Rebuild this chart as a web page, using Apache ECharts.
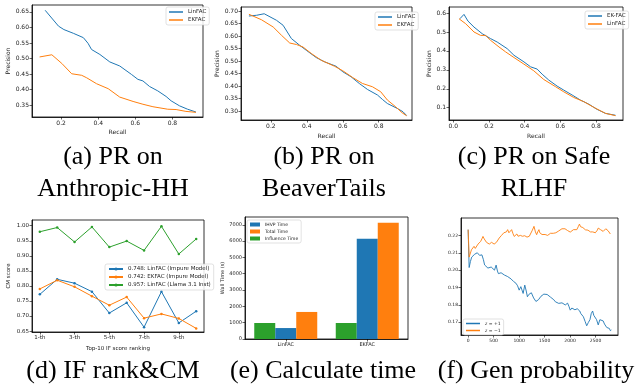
<!DOCTYPE html>
<html>
<head>
<meta charset="utf-8">
<script src="https://cdn.jsdelivr.net/npm/echarts@6/dist/echarts.min.js"></script>
<style>
html, body { margin: 0; padding: 0; background: #fff; }
#chart { width: 637px; height: 385px; }
</style>
</head>
<body>
<div id="chart"></div>
<script>
// (a) PR on Anthropic-HH  [recall, precision]
var aLinFAC = [[0.114,0.655],[0.186,0.604],[0.215,0.593],[0.266,0.581],[0.32,0.567],[0.345,0.549],[0.364,0.529],[0.409,0.513],[0.4625,0.489],[0.516,0.476],[0.579,0.449],[0.614,0.433],[0.641,0.428],[0.677,0.41],[0.721,0.396],[0.766,0.378],[0.793,0.364],[0.838,0.348],[0.882,0.337],[0.927,0.328]];
var aEKFAC = [[0.084,0.505],[0.15,0.512],[0.204,0.484],[0.257,0.451],[0.311,0.446],[0.338,0.438],[0.391,0.419],[0.454,0.403],[0.516,0.376],[0.588,0.362],[0.641,0.353],[0.695,0.345],[0.775,0.337],[0.82,0.336],[0.873,0.33],[0.927,0.327]];

// (b) PR on BeaverTails
var bLinFAC = [[0.078,0.68],[0.121,0.683],[0.163,0.689],[0.231,0.663],[0.268,0.643],[0.314,0.59],[0.36,0.563],[0.397,0.543],[0.452,0.514],[0.498,0.497],[0.563,0.479],[0.6,0.457],[0.646,0.437],[0.692,0.41],[0.738,0.386],[0.793,0.364],[0.821,0.346],[0.848,0.33],[0.904,0.31],[0.935,0.297],[0.955,0.282]];
var bEKFAC = [[0.078,0.687],[0.148,0.665],[0.213,0.636],[0.259,0.603],[0.305,0.572],[0.342,0.566],[0.379,0.556],[0.425,0.53],[0.48,0.503],[0.554,0.479],[0.6,0.461],[0.655,0.434],[0.71,0.41],[0.765,0.397],[0.811,0.377],[0.848,0.344],[0.894,0.317],[0.93,0.293],[0.955,0.281]];

// (c) PR on Safe RLHF
var cEKFAC = [[0.037,0.57],[0.06,0.593],[0.082,0.558],[0.116,0.526],[0.162,0.491],[0.209,0.465],[0.246,0.447],[0.302,0.412],[0.34,0.377],[0.396,0.342],[0.433,0.316],[0.47,0.304],[0.498,0.277],[0.535,0.246],[0.582,0.214],[0.619,0.193],[0.666,0.167],[0.713,0.14],[0.759,0.119],[0.806,0.091],[0.853,0.07],[0.909,0.06]];
var cLinFAC = [[0.032,0.57],[0.069,0.544],[0.116,0.5],[0.153,0.482],[0.181,0.482],[0.209,0.456],[0.256,0.421],[0.293,0.395],[0.34,0.365],[0.396,0.33],[0.451,0.295],[0.507,0.249],[0.573,0.211],[0.619,0.184],[0.675,0.154],[0.731,0.132],[0.787,0.102],[0.853,0.07],[0.909,0.058]];

// (d) IF rank & CM score
var ranks = [1, 2, 3, 4, 5, 6, 7, 8, 9, 10];
var dLinImpure = [0.772, 0.822, 0.809, 0.781, 0.71, 0.744, 0.663, 0.781, 0.677, 0.716];
var dEkImpure = [0.79, 0.819, 0.797, 0.766, 0.736, 0.763, 0.693, 0.707, 0.692, 0.659];
var dLinLlama = [0.98, 0.994, 0.946, 0.996, 0.929, 0.949, 0.918, 0.998, 0.906, 0.956];

// (e) calculate time
var methods = ['LinFAC', 'EKFAC'];
var ihvpTime = [671, 6137];
var totalTime = [1657, 7123];
var influenceTime = [980, 980];

// (f) gen probability  [step, prob]
var fPlus = [[0,0.2233],[20,0.2015],[45,0.2050],[70,0.2075],[100,0.2085],[130,0.2092],[180,0.2100],[225,0.2085],[270,0.2088],[300,0.2060],[323,0.2030],[360,0.2040],[388,0.2012],[420,0.2022],[452,0.2018],[490,0.2028],[517,0.2000],[549,0.2029],[575,0.1995],[594,0.1980],[620,0.1990],[646,0.1985],[680,0.1975],[711,0.1972],[740,0.1965],[775,0.1963],[810,0.1958],[840,0.1950],[870,0.1940],[891,0.1935],[920,0.1930],[937,0.1925],[970,0.1910],[1001,0.1885],[1034,0.1905],[1060,0.1895],[1079,0.1866],[1111,0.1914],[1140,0.1880],[1163,0.1847],[1190,0.1860],[1214,0.1866],[1240,0.1870],[1260,0.1866],[1285,0.1840],[1305,0.1832],[1330,0.1820],[1357,0.1809],[1380,0.1830],[1408,0.1838],[1430,0.1850],[1454,0.1857],[1485,0.1862],[1518,0.1866],[1550,0.1860],[1583,0.1862],[1615,0.1845],[1647,0.1838],[1680,0.1830],[1712,0.1818],[1745,0.1822],[1777,0.1809],[1810,0.1818],[1841,0.1812],[1875,0.1815],[1906,0.1800],[1930,0.1808],[1951,0.1810],[1980,0.1790],[2003,0.1770],[2035,0.1782],[2067,0.1780],[2095,0.1772],[2119,0.1770],[2140,0.1778],[2164,0.1780],[2190,0.1765],[2209,0.1751],[2235,0.1745],[2261,0.1732],[2295,0.1705],[2326,0.1680],[2360,0.1700],[2390,0.1715],[2415,0.1750],[2442,0.1765],[2465,0.1740],[2487,0.1732],[2520,0.1715],[2552,0.1685],[2584,0.1715],[2615,0.1712],[2649,0.1708],[2675,0.1690],[2700,0.1690],[2720,0.1670],[2745,0.1660],[2770,0.1665],[2790,0.1652],[2810,0.1656]];
var fMinus = [[0,0.2233],[20,0.2075],[32,0.2085],[65,0.2117],[90,0.2110],[116,0.2137],[140,0.2125],[161,0.2127],[194,0.2150],[220,0.2140],[245,0.2165],[270,0.2180],[291,0.2194],[315,0.2180],[336,0.2175],[360,0.2160],[388,0.2165],[415,0.2150],[439,0.2146],[460,0.2160],[485,0.2162],[510,0.2150],[530,0.2142],[555,0.2160],[581,0.2156],[610,0.2185],[633,0.2194],[655,0.2200],[678,0.2204],[700,0.2215],[723,0.2213],[750,0.2220],[775,0.2233],[800,0.2215],[827,0.2204],[853,0.2233],[880,0.2210],[904,0.2194],[930,0.2205],[956,0.2208],[980,0.2195],[1001,0.2185],[1025,0.2200],[1047,0.2208],[1065,0.2195],[1085,0.2188],[1110,0.2198],[1131,0.2200],[1155,0.2190],[1176,0.2181],[1200,0.2195],[1227,0.2204],[1260,0.2230],[1292,0.2252],[1320,0.2220],[1344,0.2204],[1365,0.2220],[1389,0.2233],[1405,0.2215],[1421,0.2204],[1450,0.2205],[1486,0.2200],[1510,0.2205],[1537,0.2208],[1560,0.2200],[1583,0.2204],[1615,0.2212],[1647,0.2223],[1670,0.2212],[1693,0.2208],[1720,0.2215],[1744,0.2219],[1775,0.2225],[1809,0.2233],[1840,0.2238],[1873,0.2246],[1900,0.2238],[1925,0.2233],[1950,0.2228],[1970,0.2223],[2003,0.2219],[2035,0.2228],[2067,0.2233],[2100,0.2230],[2132,0.2233],[2160,0.2250],[2184,0.2265],[2205,0.2250],[2229,0.2242],[2250,0.2245],[2274,0.2246],[2300,0.2232],[2326,0.2223],[2350,0.2230],[2377,0.2233],[2400,0.2220],[2423,0.2213],[2445,0.2220],[2468,0.2223],[2495,0.2215],[2520,0.2208],[2535,0.2230],[2552,0.2242],[2575,0.2238],[2597,0.2233],[2625,0.2228],[2649,0.2223],[2675,0.2232],[2700,0.2238],[2722,0.2230],[2745,0.2227],[2770,0.2218],[2790,0.2208]];

// tick labels
var prTicksA_y = [0.35, 0.40, 0.45, 0.50, 0.55, 0.60, 0.65];
var prTicksB_y = [0.30, 0.35, 0.40, 0.45, 0.50, 0.55, 0.60, 0.65, 0.70];
var prTicksC_y = [0.1, 0.2, 0.3, 0.4, 0.5, 0.6];
var recallTicks = [0.2, 0.4, 0.6, 0.8];
var recallTicksC = [0.0, 0.2, 0.4, 0.6, 0.8];
var cmTicks = [0.65, 0.70, 0.75, 0.80, 0.85, 0.90, 0.95, 1.00];
var rankTicks = [1, 3, 5, 7, 9];
var timeTicks = [0, 1000, 2000, 3000, 4000, 5000, 6000, 7000];
var probTicks = [0.17, 0.18, 0.19, 0.20, 0.21, 0.22];
var stepTicks = [0, 500, 1000, 1500, 2000, 2500];

var BLUE = '#1f77b4', ORANGE = '#ff7f0e', GREEN = '#2ca02c';
var FONT = 'DejaVu Sans';

function fixed(n) { return function (v) { return v.toFixed(n); }; }

function axis(gi, min, max, ticks, fmt, fs, extra) {
    var o = {
        type: 'value', gridIndex: gi, min: min, max: max,
        axisLine: {show: true, onZero: false, lineStyle: {color: '#000', width: 0.8}},
        axisTick: {show: true, length: 2.5, customValues: ticks, lineStyle: {color: '#000', width: 0.6}},
        axisLabel: {customValues: ticks, formatter: fmt, fontSize: fs, color: '#222', margin: 3, fontFamily: FONT},
        splitLine: {show: false},
        nameTextStyle: {fontSize: fs, color: '#222', fontFamily: FONT},
        nameLocation: 'middle'
    };
    for (var k in extra) o[k] = extra[k];
    return o;
}

function legendBox(extra) {
    var o = {
        orient: 'vertical', itemGap: 2, padding: [2, 3],
        borderColor: '#cfcfcf', borderWidth: 0.6, borderRadius: 2,
        backgroundColor: 'rgba(255,255,255,0.85)',
        textStyle: {fontSize: 5.5, color: '#222', fontFamily: FONT},
        icon: 'rect', itemWidth: 14, itemHeight: 1.5,
        formatter: function (n) { return n.split('#')[0]; }
    };
    for (var k in extra) o[k] = extra[k];
    return o;
}

function line(name, gi, data, color, extra) {
    var o = {
        name: name, type: 'line', xAxisIndex: gi, yAxisIndex: gi, data: data,
        symbol: 'none', lineStyle: {color: color, width: 1}, itemStyle: {color: color}
    };
    for (var k in extra) o[k] = extra[k];
    return o;
}

function pairs(xs, ys) {
    return xs.map(function (x, i) { return [x, ys[i]]; });
}

var grids = [
    {left: 32, top: 5, width: 171, height: 112},
    {left: 241, top: 7, width: 171, height: 113},
    {left: 449, top: 7, width: 174, height: 113},
    {left: 32, top: 220, width: 172, height: 112},
    {left: 245, top: 217, width: 163, height: 122},
    {left: 461, top: 218, width: 157, height: 117}
].map(function (g) {
    g.show = true; g.borderColor = '#000'; g.borderWidth = 0.8;
    return g;
});

var capStyle = {fontSize: 26, fontFamily: 'Liberation Serif', fill: '#000', textAlign: 'center', textVerticalAlign: 'middle'};
function cap(text, x, y) {
    var s = {};
    for (var k in capStyle) s[k] = capStyle[k];
    s.text = text; s.x = x; s.y = y;
    return {type: 'text', style: s};
}

var chart = echarts.init(document.getElementById('chart'), null, {renderer: 'canvas'});
chart.setOption({
    animation: false,
    grid: grids,
    xAxis: [
        axis(0, 0.043, 0.965, recallTicks, fixed(1), 6, {name: 'Recall', nameGap: 12}),
        axis(1, 0.034, 0.985, recallTicks, fixed(1), 6, {name: 'Recall', nameGap: 13}),
        axis(2, -0.024, 0.951, recallTicksC, fixed(1), 6, {name: 'Recall', nameGap: 13}),
        axis(3, 0.55, 10.45, rankTicks, function (v) { return v + '-th'; }, 5.5, {name: 'Top-10 IF score ranking', nameGap: 14}),
        {
            type: 'category', gridIndex: 4, data: methods,
            axisLine: {show: true, lineStyle: {color: '#000', width: 0.8}},
            axisTick: {show: true, alignWithLabel: true, length: 2.5, lineStyle: {color: '#000', width: 0.6}},
            axisLabel: {fontSize: 5, color: '#222', margin: 3, fontFamily: FONT},
            splitLine: {show: false}
        },
        axis(5, -140, 2940, stepTicks, function (v) { return String(v); }, 4.5, {})
    ],
    yAxis: [
        axis(0, 0.312, 0.672, prTicksA_y, fixed(2), 6, {name: 'Precision', nameGap: 20}),
        axis(1, 0.264, 0.716, prTicksB_y, fixed(2), 6, {name: 'Precision', nameGap: 19}),
        axis(2, 0.035, 0.632, prTicksC_y, fixed(1), 6, {name: 'Precision', nameGap: 14}),
        axis(3, 0.647, 1.019, cmTicks, fixed(2), 5.5, {name: 'CM score', nameGap: 20}),
        axis(4, 0, 7475, timeTicks, function (v) { return String(v); }, 5, {name: 'Wall Time (s)', nameGap: 19}),
        axis(5, 0.1627, 0.2300, probTicks, fixed(2), 4.5, {})
    ],
    legend: [
        legendBox({left: 166, top: 7, data: ['LinFAC#a', 'EKFAC#a']}),
        legendBox({left: 375, top: 12, data: ['LinFAC#b', 'EKFAC#b']}),
        legendBox({left: 585, top: 11, data: ['EK-FAC#c', 'LinFAC#c']}),
        legendBox({left: 105, top: 264, icon: null, itemWidth: 14, itemHeight: 4,
            data: ['0.748: LinFAC (Impure Model)', '0.742: EKFAC (Impure Model)', '0.957: LinFAC (Llama 3.1 Inst)']}),
        legendBox({left: 247, top: 220, icon: 'rect', itemWidth: 10, itemHeight: 4, textStyle: {fontSize: 4.5, color: '#222', fontFamily: FONT},
            data: ['IHVP Time', 'Total Time', 'Influence Time']}),
        legendBox({left: 463, top: 319, textStyle: {fontSize: 4.5, color: '#222', fontFamily: FONT,
            rich: {i: {fontStyle: 'italic', fontSize: 4.5, fontFamily: 'DejaVu Serif'}}},
            formatter: function (n) { return n.replace('z', '{i|z}'); },
            data: ['z = +1', 'z = \u22121']})
    ],
    graphic: [
        cap('(a) PR on', 113, 157), cap('Anthropic-HH', 113, 189),
        cap('(b) PR on', 324, 157), cap('BeaverTails', 324, 189),
        cap('(c) PR on Safe', 534, 157), cap('RLHF', 534, 189),
        cap('(d) IF rank&CM', 113, 371), cap('(e) Calculate time', 323, 371), cap('(f) Gen probability', 536, 371)
    ],
    series: [
        line('LinFAC#a', 0, aLinFAC, BLUE),
        line('EKFAC#a', 0, aEKFAC, ORANGE),
        line('LinFAC#b', 1, bLinFAC, BLUE),
        line('EKFAC#b', 1, bEKFAC, ORANGE),
        line('EK-FAC#c', 2, cEKFAC, BLUE),
        line('LinFAC#c', 2, cLinFAC, ORANGE),
        line('0.748: LinFAC (Impure Model)', 3, pairs(ranks, dLinImpure), BLUE, {symbol: 'circle', symbolSize: 2.5}),
        line('0.742: EKFAC (Impure Model)', 3, pairs(ranks, dEkImpure), ORANGE, {symbol: 'circle', symbolSize: 2.5}),
        line('0.957: LinFAC (Llama 3.1 Inst)', 3, pairs(ranks, dLinLlama), GREEN, {symbol: 'circle', symbolSize: 2.5}),
        {name: 'Influence Time', type: 'bar', xAxisIndex: 4, yAxisIndex: 4, data: influenceTime, barWidth: 21, barGap: '0%', itemStyle: {color: GREEN}},
        {name: 'IHVP Time', type: 'bar', xAxisIndex: 4, yAxisIndex: 4, data: ihvpTime, barWidth: 21, barGap: '0%', itemStyle: {color: BLUE}},
        {name: 'Total Time', type: 'bar', xAxisIndex: 4, yAxisIndex: 4, data: totalTime, barWidth: 21, barGap: '0%', itemStyle: {color: ORANGE}},
        line('z = +1', 5, fPlus, BLUE, {lineStyle: {color: BLUE, width: 0.9}}),
        line('z = \u22121', 5, fMinus, ORANGE, {lineStyle: {color: ORANGE, width: 0.9}})
    ]
});
</script>
</body>
</html>
